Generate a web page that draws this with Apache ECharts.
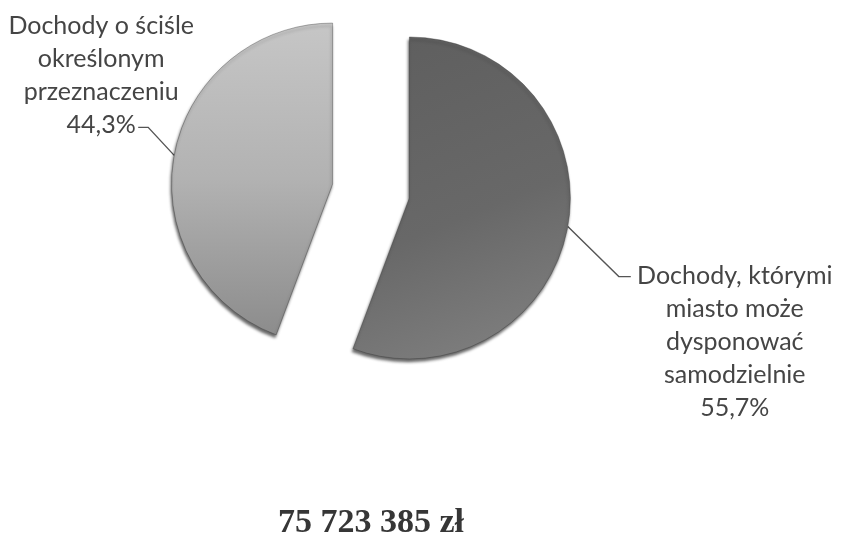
<!DOCTYPE html>
<html>
<head>
<meta charset="utf-8">
<script src="https://cdn.jsdelivr.net/npm/echarts@6/dist/echarts.min.js"></script>
<style>
  html, body { margin: 0; padding: 0; background: #fff; }
  #chart { width: 841px; height: 535px; }
</style>
</head>
<body>
<div id="chart"></div>
<script>
// data (shares in %)
var sliceNames = [
  'Dochody, którymi\nmiasto może\ndysponować\nsamodzielnie',
  'Dochody o ściśle\nokreślonym\nprzeznaczeniu'
];
var sliceShares = [55.7, 44.3];
var totalLabel = '75 723 385 zł';

var sliceColors = [
  { type: 'linear', x: 0, y: 0, x2: 0.6, y2: 1, colorStops: [{ offset: 0, color: '#5e5e5e' }, { offset: 0.6, color: '#686868' }, { offset: 1, color: '#7e7e7e' }] },
  { type: 'linear', x: 0, y: 0, x2: 0, y2: 1, colorStops: [{ offset: 0, color: '#c6c6c6' }, { offset: 0.5, color: '#b2b2b2' }, { offset: 1, color: '#8c8c8c' }] }
];

var pieCenter = [371, 191];
var explode = 39;

// each slice is pulled out along its own middle angle (clockwise from 12 o'clock)
var sum = sliceShares.reduce(function (a, b) { return a + b; }, 0);
var acc = 0;
var sliceCenters = sliceShares.map(function (v) {
  var mid = (acc + v / 2) / sum * Math.PI * 2;
  acc += v;
  return [pieCenter[0] + explode * Math.sin(mid), pieCenter[1] - explode * Math.cos(mid)];
});

function fmtLabel(p) {
  return p.name + '\n' + p.value.toFixed(1).replace('.', ',') + '%';
}

// leader line: short diagonal then a short horizontal tail, label hung off the tail
function placeLabel(params) {
  var pts = params.labelLinePoints;
  if (!pts) return {};
  var p0 = pts[0];
  var p1, p2;
  if (params.dataIndex === 0) {
    p1 = [p0[0] + 51, p0[1] + 50];
    p2 = [p1[0] + 12, p1[1]];
    return {
      x: p2[0] + 104, y: p2[1] - 17,
      width: 240,
      align: 'center', verticalAlign: 'top',
      labelLinePoints: [p0, p1, p2]
    };
  }
  p1 = [p0[0] - 26, p0[1] - 28];
  p2 = [p1[0] - 10, p1[1]];
  return {
    x: p2[0] - 37, y: p2[1] + 14,
    width: 240,
    align: 'center', verticalAlign: 'bottom',
    labelLinePoints: [p0, p1, p2]
  };
}

function sliceSeries(k) {
  return {
    type: 'pie',
    center: sliceCenters[k],
    radius: 161,
    startAngle: 90,
    clockwise: true,
    silent: true,
    label: {
      show: true,
      position: 'outside',
      fontFamily: 'Lato',
      fontSize: 25,
      lineHeight: 33,
      color: '#454545',
      align: 'center',
      overflow: 'none',
      formatter: fmtLabel
    },
    labelLine: {
      show: true,
      length: 20,
      length2: 10,
      lineStyle: { color: '#555555', width: 1.4 }
    },
    labelLayout: placeLabel,
    data: sliceNames.map(function (name, i) {
      if (i !== k) {
        return {
          name: name, value: sliceShares[i],
          itemStyle: { color: 'rgba(0,0,0,0)', shadowBlur: 0, shadowOffsetX: 0, shadowOffsetY: 0, borderWidth: 0 },
          label: { show: false }, labelLine: { show: false }
        };
      }
      return {
        name: name, value: sliceShares[i],
        itemStyle: {
          color: sliceColors[i],
          borderColor: 'rgba(50,50,50,0.6)',
          borderWidth: 0.6,
          shadowColor: 'rgba(0,0,0,0.6)',
          shadowBlur: 3,
          shadowOffsetX: -1,
          shadowOffsetY: 3
        }
      };
    })
  };
}

var chart = echarts.init(document.getElementById('chart'));
chart.setOption({
  animation: false,
  backgroundColor: '#ffffff',
  title: {
    text: totalLabel,
    left: 273,
    top: 501,
    textStyle: {
      fontFamily: 'Liberation Serif',
      fontWeight: 'bold',
      fontSize: 34,
      color: '#363636'
    }
  },
  series: [sliceSeries(0), sliceSeries(1)]
});
</script>
</body>
</html>
